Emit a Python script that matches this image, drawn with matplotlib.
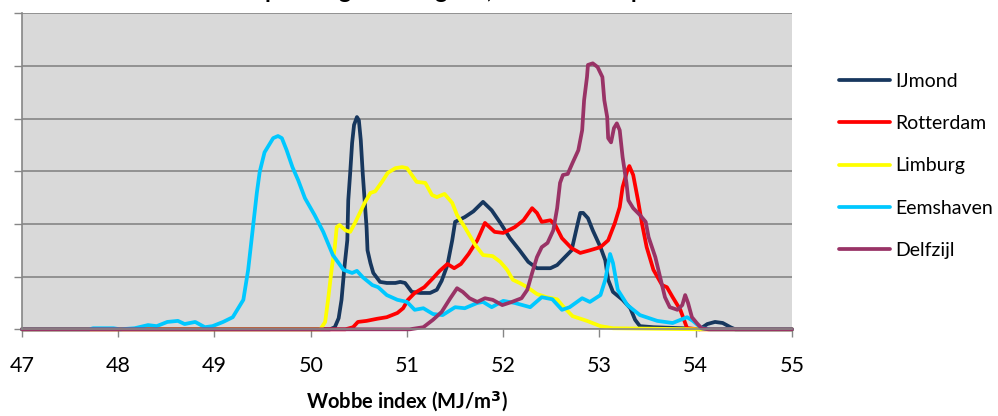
import numpy as np
import matplotlib
matplotlib.use("Agg")
import matplotlib.pyplot as plt

plt.rcParams['font.family'] = ['Lato', 'DejaVu Sans']

# Wobbe index (MJ/m3) vs relative frequency
ijmond_x = [47.0, 50.20, 50.25, 50.29, 50.32, 50.35, 50.38, 50.39, 50.41, 50.43, 50.45, 50.48,
            50.50, 50.52, 50.54, 50.56, 50.58, 50.59, 50.62, 50.65, 50.72, 50.79, 50.88, 50.93,
            50.98, 51.05, 51.14, 51.24, 51.31, 51.36, 51.42, 51.47, 51.50, 51.60, 51.69, 51.79,
            51.88, 51.97, 52.07, 52.17, 52.26, 52.35, 52.49, 52.56, 52.64, 52.71, 52.77, 52.80,
            52.83, 52.88, 52.93, 53.01, 53.06, 53.09, 53.14, 53.24, 53.32, 53.37, 53.42, 53.56,
            53.87, 54.04, 54.12, 54.20, 54.28, 54.36, 54.41, 55.0]
ijmond_y = [0, 0, 0.04, 0.21, 0.56, 1.18, 1.69, 2.45, 2.97, 3.54, 3.88, 4.03,
            3.97, 3.59, 2.97, 2.45, 1.94, 1.50, 1.26, 1.07, 0.90, 0.88, 0.88, 0.90,
            0.88, 0.71, 0.69, 0.69, 0.75, 0.92, 1.22, 1.69, 2.04, 2.13, 2.24, 2.42,
            2.26, 2.02, 1.73, 1.50, 1.28, 1.16, 1.16, 1.22, 1.37, 1.50, 1.98, 2.21,
            2.21, 2.11, 1.88, 1.56, 1.31, 0.94, 0.71, 0.56, 0.40, 0.18, 0.06, 0.04,
            0.02, 0, 0.10, 0.14, 0.12, 0.04, 0, 0]

rotterdam_x = [47.0, 50.36, 50.44, 50.49, 50.58, 50.69, 50.79, 50.90, 50.96, 51.01, 51.08, 51.18,
               51.27, 51.34, 51.42, 51.49, 51.56, 51.64, 51.73, 51.81, 51.91, 52.00, 52.12, 52.21,
               52.30, 52.35, 52.40, 52.49, 52.54, 52.61, 52.71, 52.80, 52.90, 53.01, 53.09, 53.16,
               53.21, 53.24, 53.29, 53.31, 53.35, 53.40, 53.44, 53.49, 53.56, 53.65, 53.70, 53.76,
               53.84, 53.89, 53.91, 54.04, 55.0]
rotterdam_y = [0, 0, 0.04, 0.14, 0.16, 0.20, 0.23, 0.31, 0.40, 0.56, 0.69, 0.80,
               0.97, 1.11, 1.24, 1.16, 1.24, 1.43, 1.69, 2.02, 1.85, 1.83, 1.94, 2.07,
               2.30, 2.21, 2.04, 2.07, 1.98, 1.73, 1.54, 1.45, 1.50, 1.56, 1.69, 2.02,
               2.32, 2.70, 3.02, 3.10, 2.93, 2.45, 2.02, 1.56, 1.13, 0.84, 0.80, 0.61,
               0.37, 0.12, 0.02, 0, 0]

limburg_x = [47.0, 50.10, 50.15, 50.18, 50.22, 50.25, 50.27, 50.30, 50.36, 50.41, 50.46, 50.51,
             50.56, 50.62, 50.67, 50.74, 50.80, 50.88, 50.95, 51.00, 51.05, 51.10, 51.19, 51.26,
             51.31, 51.39, 51.47, 51.52, 51.60, 51.71, 51.79, 51.89, 51.97, 52.04, 52.10, 52.17,
             52.25, 52.35, 52.45, 52.56, 52.62, 52.72, 52.87, 53.01, 53.14, 54.04, 55.0]
limburg_y = [0, 0, 0.14, 0.56, 1.18, 1.56, 1.94, 1.98, 1.88, 1.85, 2.02, 2.21,
             2.40, 2.59, 2.62, 2.80, 2.97, 3.06, 3.08, 3.06, 2.93, 2.80, 2.78, 2.55,
             2.51, 2.57, 2.40, 2.17, 1.94, 1.60, 1.41, 1.39, 1.28, 1.13, 0.94, 0.88,
             0.80, 0.67, 0.61, 0.57, 0.44, 0.25, 0.16, 0.06, 0.02, 0, 0]

eemshaven_x = [47.0, 47.70, 47.74, 47.95, 48.02, 48.17, 48.31, 48.40, 48.51, 48.62, 48.69, 48.80,
               48.90, 48.98, 49.09, 49.19, 49.30, 49.35, 49.40, 49.44, 49.47, 49.52, 49.61, 49.66,
               49.70, 49.75, 49.81, 49.87, 49.94, 50.04, 50.13, 50.23, 50.34, 50.43, 50.48, 50.54,
               50.64, 50.70, 50.79, 50.90, 51.00, 51.08, 51.17, 51.27, 51.37, 51.50, 51.60, 51.73,
               51.79, 51.88, 52.00, 52.12, 52.28, 52.40, 52.51, 52.61, 52.69, 52.82, 52.90, 53.01,
               53.06, 53.11, 53.14, 53.19, 53.29, 53.42, 53.60, 53.76, 53.91, 53.97, 54.06, 54.15,
               55.0]
eemshaven_y = [0, 0, 0.02, 0.02, 0, 0.02, 0.08, 0.06, 0.14, 0.16, 0.10, 0.14,
               0.04, 0.06, 0.14, 0.23, 0.56, 1.13, 1.94, 2.59, 2.99, 3.36, 3.63, 3.67,
               3.63, 3.40, 3.08, 2.83, 2.49, 2.17, 1.85, 1.41, 1.13, 1.07, 1.11, 0.99,
               0.84, 0.80, 0.65, 0.56, 0.52, 0.37, 0.40, 0.29, 0.27, 0.42, 0.40, 0.50,
               0.52, 0.42, 0.54, 0.50, 0.42, 0.61, 0.57, 0.37, 0.42, 0.59, 0.52, 0.65,
               0.94, 1.43, 1.26, 0.75, 0.46, 0.27, 0.16, 0.12, 0.23, 0.16, 0.02, 0,
               0]

delfzijl_x = [47.0, 51.03, 51.17, 51.27, 51.36, 51.45, 51.52, 51.58, 51.65, 51.73, 51.81, 51.89,
              51.99, 52.09, 52.19, 52.25, 52.30, 52.35, 52.40, 52.46, 52.52, 52.56, 52.59, 52.62,
              52.67, 52.72, 52.78, 52.82, 52.84, 52.87, 52.88, 52.93, 52.98, 53.03, 53.05, 53.08,
              53.09, 53.12, 53.15, 53.18, 53.21, 53.24, 53.28, 53.30, 53.35, 53.42, 53.48, 53.51,
              53.58, 53.63, 53.68, 53.73, 53.81, 53.86, 53.89, 53.92, 53.96, 54.01, 54.06, 54.13,
              55.0]
delfzijl_y = [0, 0, 0.04, 0.18, 0.33, 0.59, 0.78, 0.71, 0.59, 0.52, 0.59, 0.56,
              0.46, 0.52, 0.59, 0.75, 1.07, 1.37, 1.56, 1.64, 1.88, 2.30, 2.78, 2.93,
              2.95, 3.16, 3.40, 3.78, 4.35, 4.79, 5.02, 5.05, 4.98, 4.79, 4.35, 4.03,
              3.63, 3.55, 3.82, 3.91, 3.78, 3.27, 2.78, 2.45, 2.30, 2.17, 2.04, 1.75,
              1.37, 0.99, 0.61, 0.42, 0.37, 0.46, 0.65, 0.50, 0.23, 0.12, 0.02, 0,
              0]

series = [
    ("IJmond", ijmond_x, ijmond_y, "#17375e"),
    ("Rotterdam", rotterdam_x, rotterdam_y, "#ff0000"),
    ("Limburg", limburg_x, limburg_y, "#ffff00"),
    ("Eemshaven", eemshaven_x, eemshaven_y, "#00c8ff"),
    ("Delfzijl", delfzijl_x, delfzijl_y, "#993366"),
]
x_ticks = [47, 48, 49, 50, 51, 52, 53, 54, 55]

fig = plt.figure(figsize=(9.98, 4.16), dpi=100)
ax = fig.add_axes([0.022, 0.2084, 0.7716, 0.7596])
ax.set_facecolor("#d9d9d9")

handles = []
for name, xs, ys, col in series:
    h, = ax.plot(xs, ys, color=col, lw=2.7, solid_joinstyle="round",
                 solid_capstyle="round", label=name, clip_on=False)
    handles.append(h)

ax.set_xlim(47, 55)
ax.set_ylim(0, 6)
ax.set_xticks(x_ticks)
ax.set_yticks(range(7))
ax.set_yticklabels([])
ax.grid(axis="y", color="#868686", lw=1.2)
ax.set_axisbelow(True)
for s in ["top", "right"]:
    ax.spines[s].set_visible(False)
for s in ["left", "bottom"]:
    ax.spines[s].set_color("#868686")
    ax.spines[s].set_linewidth(1.2)
ax.tick_params(axis="both", direction="out", length=5.5, width=1.0, color="#868686")
ax.tick_params(axis="x", pad=14, labelsize=15.5)

ax.set_xlabel("Wobbe index (MJ/m$^\\mathbf{3}$)", fontsize=14.5, fontweight="bold")
ax.xaxis.set_label_coords(0.5, -0.19)
ax.xaxis.label.set_va("top")

fig.legend(handles=handles, loc="center left", bbox_to_anchor=(0.833, 0.601),
           frameon=False, fontsize=14, handlelength=2.6, handletextpad=0.3,
           labelspacing=1.3, borderaxespad=0)

# title is cut off at the top edge of the image, as in the source picture
fig.text(0.48, 1.0 + 1.5 / 416, "Spreiding Wobbegetal, uurwaarden per net",
         ha="center", va="baseline", fontsize=17, fontweight="bold")

fig.savefig("out.png", dpi=100)
